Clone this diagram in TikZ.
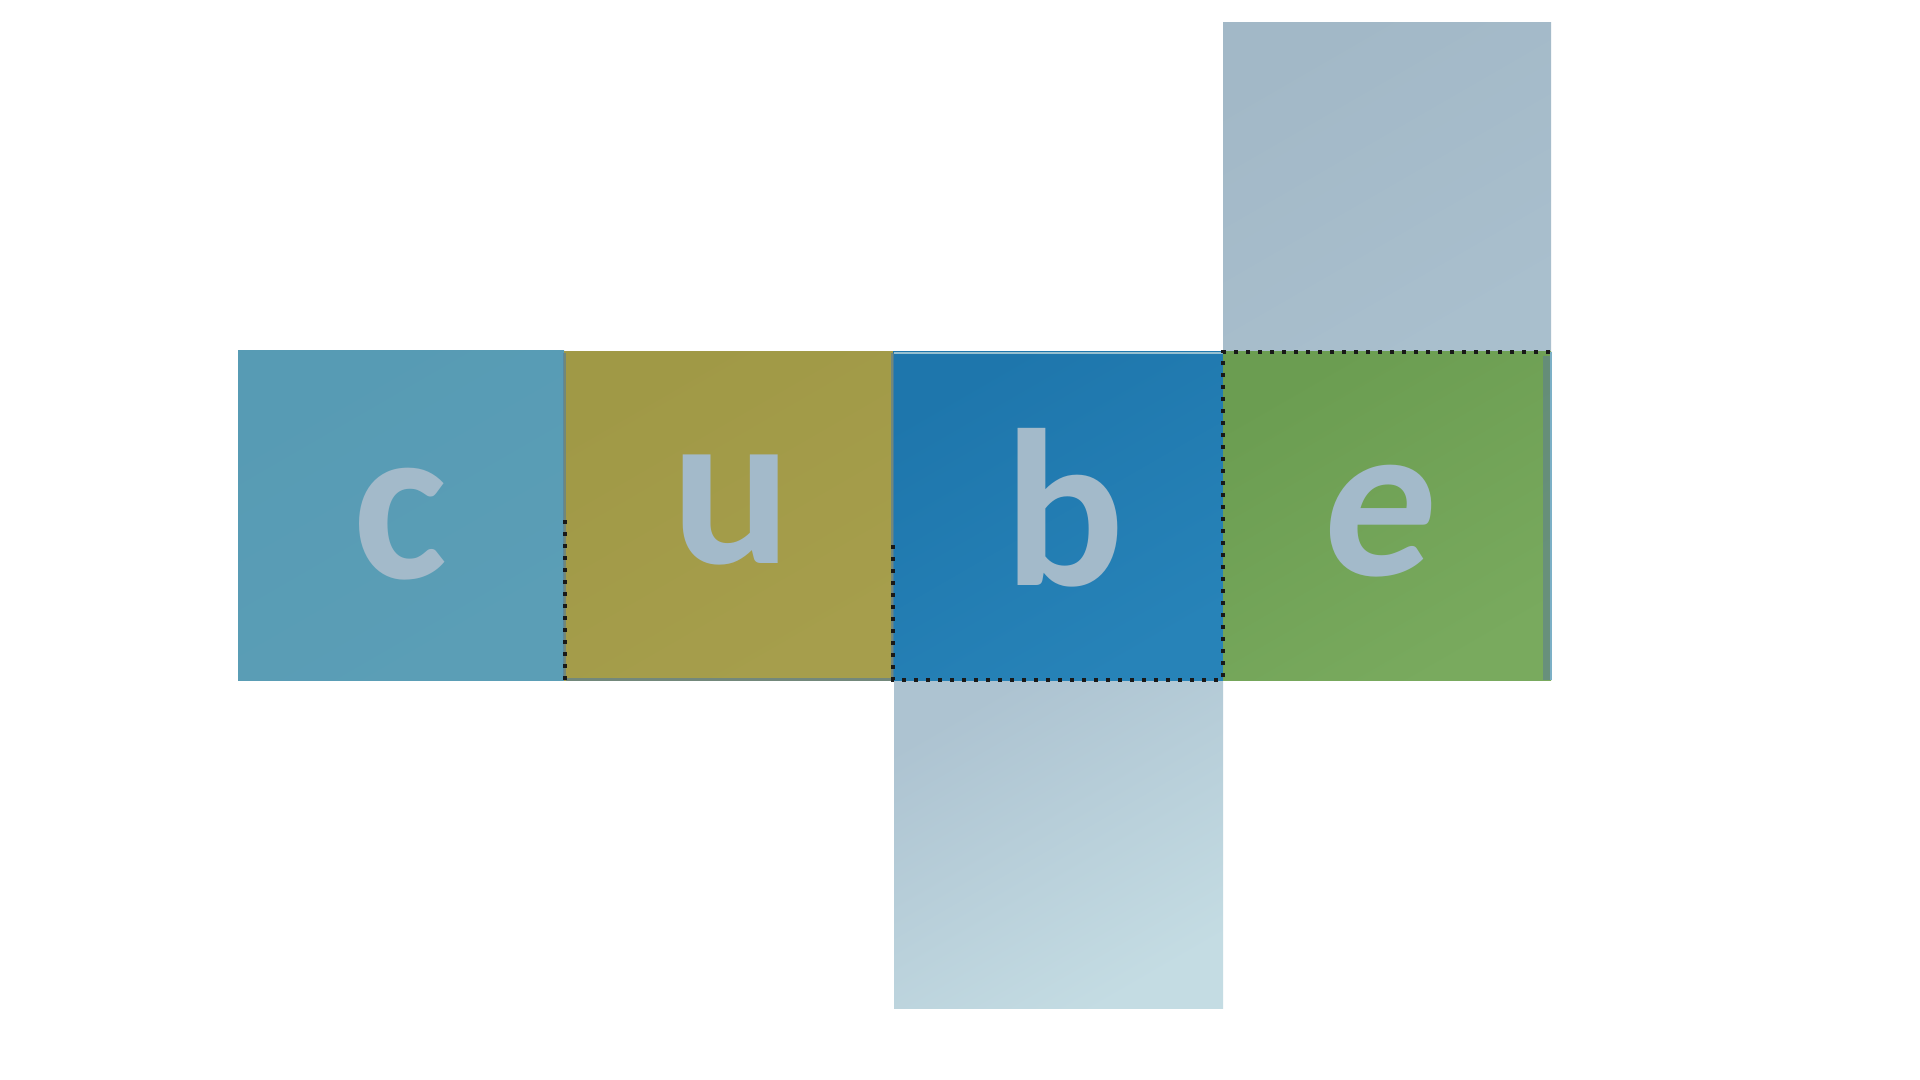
\documentclass[tikz,border=0pt]{standalone}
\usepackage{fontspec}
\newfontfamily\letterfont{Carlito}
\definecolor{cface}{HTML}{579BB4}
\definecolor{cfaceb}{HTML}{5B9EB6}
\definecolor{uface}{HTML}{A09946}
\definecolor{ufaceb}{HTML}{A69E4C}
\definecolor{bface}{HTML}{1E76AC}
\definecolor{bfaceb}{HTML}{2783B8}
\definecolor{eface}{HTML}{6B9D51}
\definecolor{efaceb}{HTML}{79AA5E}
\definecolor{topface}{HTML}{A2B8C7}
\definecolor{topfaceb}{HTML}{A9BFCD}
\definecolor{botface}{HTML}{ADC3D1}
\definecolor{botfaceb}{HTML}{C4DCE3}
\definecolor{lettercol}{HTML}{A3BACA}
\definecolor{seam}{HTML}{5E8090}
\definecolor{rimblue}{HTML}{7CB0C6}
\tikzset{
  letter/.style={anchor=base, inner sep=0pt, text=lettercol,
    font=\letterfont\bfseries\fontsize{112}{112}\selectfont},
  foldline/.style={line width=1.7pt, black!90, dash pattern=on 2pt off 4pt},
  seamline/.style={line width=1.5pt, seam, opacity=0.7}
}
\begin{document}
\begin{tikzpicture}[x=0.5pt, y=-0.5pt]
\useasboundingbox[fill=white] (0,0) rectangle (1920,1080);
% faces
\shade[top color=topface, bottom color=topfaceb, shading angle=30] (1223,23) rectangle (1551,352);
\shade[top color=botface, bottom color=botfaceb, shading angle=30] (894,680) rectangle (1223,1008);
\shade[top color=cface, bottom color=cfaceb, shading angle=30] (238,351) rectangle (564,680);
\shade[top color=uface, bottom color=ufaceb, shading angle=30] (564,352) rectangle (893,680);
\shade[top color=bface, bottom color=bfaceb, shading angle=30] (893,352) rectangle (1223,680);
\shade[top color=eface, bottom color=efaceb, shading angle=30] (1223,352) rectangle (1551,680);
% seams and rims
\draw[seamline] (564,353) -- (564,680);
\draw[seamline] (892,353) -- (892,680);
\draw[seamline] (566,679) -- (892,679);
\draw[line width=3.5pt, seam, opacity=0.6] (1546,356) -- (1546,680);
\draw[line width=1.2pt, rimblue] (1551,352) -- (1551,680);
\draw[line width=1pt, rimblue!80!white] (894,353) -- (1223,353);
% letters
\node[letter] (lc) at (400,578) {c};
\node[letter] (lu) at (732,563) {u};
\node[letter] (lb) at (1065,585) {b};
\node[letter, xslant=0.14, transform shape] (le) at (1373,575) {e};
% fold lines
\coordinate (etl) at (1223,352);
\coordinate (etr) at (1550,352);
\coordinate (ebl) at (1223,680);
\coordinate (bbl) at (893,680);
\coordinate (bml) at (893,540);
\coordinate (ubl) at (565,680);
\coordinate (uml) at (565,520);
\draw[foldline] (etr) -- (etl) -- (ebl) -- (bbl) -- (bml);
\draw[foldline] (uml) -- (ubl);
\end{tikzpicture}
\end{document}
